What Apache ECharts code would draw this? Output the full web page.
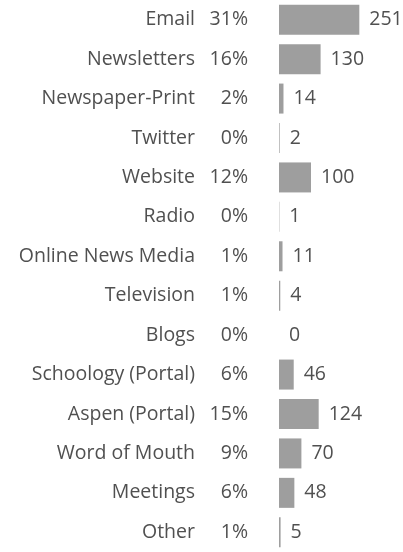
<!DOCTYPE html>
<html>
<head>
<meta charset="utf-8">
<script src="https://cdn.jsdelivr.net/npm/echarts@6/dist/echarts.min.js"></script>
<style>
  html, body { margin: 0; padding: 0; background: #fff; }
  #char { width: 403px; height: 552px; }
</style>
</head>
<body>
<div id="char"></div>
<script>
var categories = ['Email', 'Newsletters', 'Newspaper-Print', 'Twitter', 'Website', 'Radio',
    'Online News Media', 'Television', 'Blogs', 'Schoology (Portal)', 'Aspen (Portal)',
    'Word of Mouth', 'Meetings', 'Other'];
var counts = [251, 130, 14, 2, 100, 1, 11, 4, 0, 46, 124, 70, 48, 5];
var percents = ['31%', '16%', '2%', '0%', '12%', '0%', '1%', '1%', '0%', '6%', '15%', '9%', '6%', '1%'];

var dom = document.getElementById("char");
var myChart = echarts.init(dom);

var txtColor = '#505050';
var fnt = 'Open Sans';
var fs = 19.5;

option = {
    animation: false,
    grid: {
        left: 279,
        right: 4,
        top: -1,
        bottom: -7,
        containLabel: false
    },
    xAxis: {
        type: 'value',
        min: 0,
        max: 375,
        show: false
    },
    yAxis: {
        type: 'category',
        inverse: true,
        data: categories,
        axisLine: { show: false },
        axisTick: { show: false },
        splitLine: { show: false },
        axisLabel: {
            margin: 31,
            formatter: function (val, idx) {
                return '{n|' + val + '}{p|' + percents[idx] + '}';
            },
            rich: {
                n: {
                    fontFamily: fnt,
                    fontSize: fs,
                    color: txtColor
                },
                p: {
                    fontFamily: fnt,
                    fontSize: fs,
                    color: txtColor,
                    width: 53,
                    align: 'right'
                }
            }
        }
    },
    series: [
        {
            type: 'bar',
            data: counts,
            barWidth: 30,
            itemStyle: { color: '#9e9e9e' },
            label: {
                show: true,
                position: 'right',
                distance: 10,
                fontFamily: fnt,
                fontSize: fs,
                color: txtColor
            }
        }
    ]
};
myChart.setOption(option);
</script>
</body>
</html>
